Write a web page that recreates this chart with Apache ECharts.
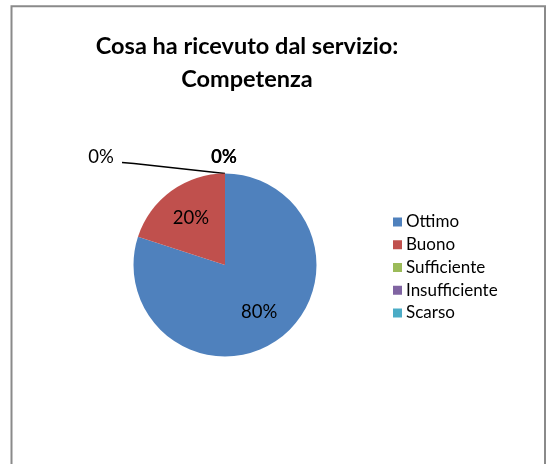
<!DOCTYPE html>
<html>
<head>
<meta charset="utf-8">
<script src="https://cdn.jsdelivr.net/npm/echarts@6/dist/echarts.min.js"></script>
<style>
html,body{margin:0;padding:0;background:#fff;}
#c{width:550px;height:464px;}
</style>
</head>
<body>
<div id="c"></div>
<script>
var titleLines = ['Cosa ha ricevuto dal servizio:', 'Competenza'];
var categories = ['Ottimo', 'Buono', 'Sufficiente', 'Insufficiente', 'Scarso'];
var values = [80, 20, 0, 0, 0];
var colors = ['#4F81BD', '#C0504D', '#9BBB59', '#8064A2', '#4BACC6'];

var FONT = 'Lato';
var PIE_CX = 225, PIE_CY = 265, PIE_R = 91.5;

var chart = echarts.init(document.getElementById('c'), null, {renderer: 'canvas'});

var data = categories.map(function (name, i) {
  var item = {name: name, value: values[i], itemStyle: {color: colors[i]}};
  if (values[i] > 0) {
    item.label = {position: 'inside'};
    item.labelLine = {show: false};
  } else {
    item.label = {position: 'outside'};
    item.labelLine = {show: i === 2};
    if (i === 3) { item.label.fontWeight = 'bold'; }
  }
  return item;
});

chart.setOption({
  backgroundColor: '#ffffff',
  animation: false,
  title: {
    text: titleLines.join('\n'),
    left: 242,
    top: 25,
    textAlign: 'center',
    textStyle: {
      fontFamily: FONT,
      fontWeight: 'bold',
      fontSize: 23.5,
      lineHeight: 33,
      color: '#000'
    }
  },
  legend: {
    orient: 'vertical',
    left: 388,
    top: 208,
    itemWidth: 9,
    itemHeight: 9,
    itemGap: 4.75,
    icon: 'rect',
    data: categories,
    textStyle: {
      fontFamily: FONT,
      fontSize: 17,
      lineHeight: 18,
      color: '#000',
      padding: [0, 0, 0, -1]
    }
  },
  graphic: [{
    type: 'rect',
    silent: true,
    shape: {x: 11.5, y: 6.3, width: 533.5, height: 480},
    style: {fill: 'none', stroke: '#8a8a8a', lineWidth: 2},
    z: 100
  }],
  series: [{
    type: 'pie',
    center: [PIE_CX, PIE_CY],
    radius: PIE_R,
    startAngle: 90,
    clockwise: true,
    avoidLabelOverlap: false,
    itemStyle: {borderWidth: 0},
    emphasis: {disabled: true},
    label: {
      show: true,
      formatter: '{d}%',
      fontFamily: FONT,
      fontSize: 18.5,
      color: '#000'
    },
    labelLine: {
      lineStyle: {color: '#000', width: 1.5},
      length: 10,
      length2: 10
    },
    labelLayout: function (p) {
      var r = p.labelRect;
      if (p.dataIndex < 2) {
        var cx = r.x + r.width / 2, cy = r.y + r.height / 2;
        return {
          x: PIE_CX + (cx - PIE_CX) * 1.19,
          y: PIE_CY + (cy - PIE_CY) * 1.19,
          align: 'center',
          verticalAlign: 'middle'
        };
      }
      if (p.dataIndex === 2) {
        return {
          x: 101, y: 157, align: 'center', verticalAlign: 'middle',
          labelLinePoints: [[PIE_CX, PIE_CY - PIE_R], [134, 163.5], [122, 162.5]]
        };
      }
      return {x: 224, y: 157, align: 'center', verticalAlign: 'middle'};
    },
    data: data
  }]
});
</script>
</body>
</html>
